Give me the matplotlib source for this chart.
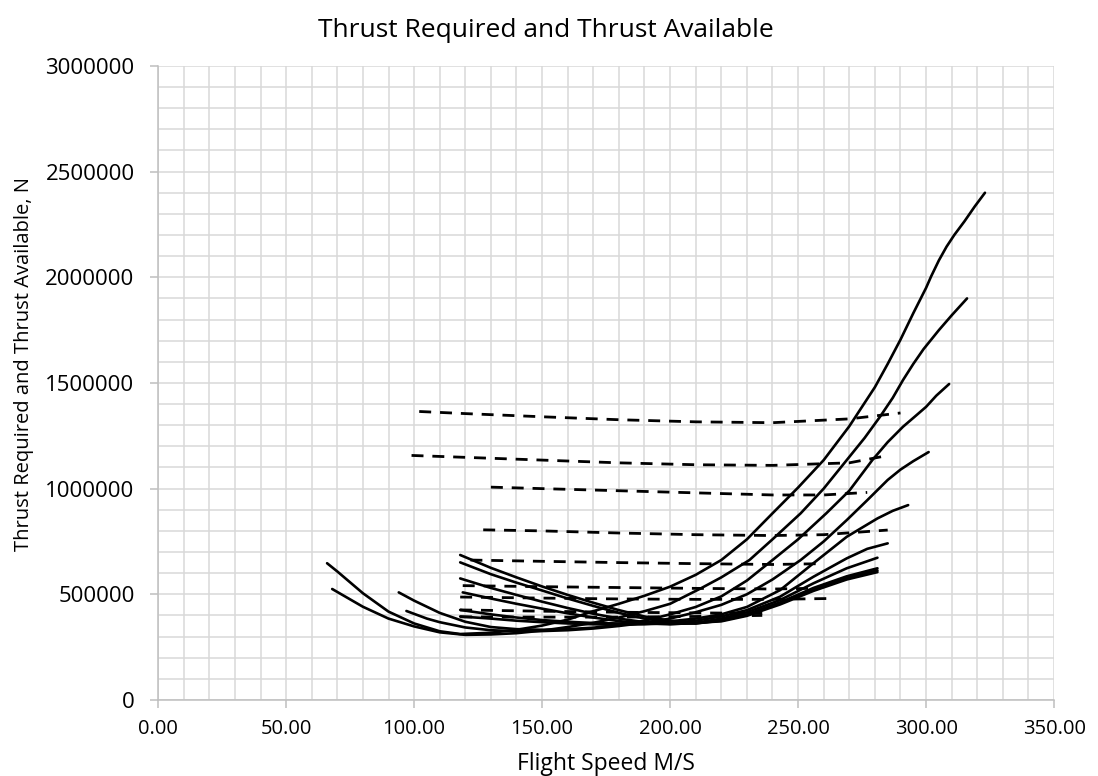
import matplotlib
matplotlib.use("Agg")
import matplotlib.pyplot as plt
from matplotlib.ticker import MultipleLocator, FuncFormatter

plt.rcParams["font.family"] = ["Open Sans", "DejaVu Sans"]

# --- thrust required (solid), values in kN ---
tr_speed = [
    [66, 70, 80, 90, 100, 110, 118, 130, 140, 150, 160, 170, 180, 190, 200, 210, 220, 230,
     240, 250, 260, 270, 280, 285, 290, 295, 300, 302, 305, 308, 311, 315, 319, 323],
    [68, 80, 90, 100, 110, 120, 130, 140, 150, 160, 170, 180, 190, 200, 212, 220, 231, 240,
     251, 260, 269, 276, 282, 287, 291, 295, 299, 302, 305, 310, 316],
    [94, 100, 110, 120, 130, 140, 150, 160, 170, 180, 190, 200, 210, 220, 230, 240, 250,
     261, 270, 279, 285, 291, 296, 300, 304, 309],
    [97, 105, 110, 120, 130, 140, 150, 160, 170, 180, 190, 200, 210, 220, 230, 240, 251,
     260, 269, 277, 285, 290, 295, 301],
    [118, 130, 140, 150, 160, 170, 180, 190, 200, 210, 220, 230, 243, 256, 269, 281, 287, 293],
    [118, 130, 140, 150, 160, 170, 180, 190, 200, 210, 220, 230, 243, 256, 269, 277, 285],
    [119, 130, 140, 150, 160, 170, 180, 190, 200, 210, 220, 230, 243, 256, 269, 281],
    [118, 130, 140, 150, 160, 170, 180, 190, 200, 210, 220, 230, 243, 256, 269, 281],
    [118, 130, 140, 150, 160, 170, 180, 190, 200, 210, 220, 230, 243, 256, 269, 281],
    [118, 130, 140, 150, 160, 170, 180, 190, 200, 210, 220, 230, 243, 256, 269, 281],
]
tr_thrust_k = [
    [647, 608, 505, 418, 362, 325, 312, 318, 332, 352, 380, 420, 455, 493, 536, 592, 662, 760,
     883, 1005, 1135, 1295, 1480, 1590, 1705, 1830, 1950, 2005, 2080, 2145, 2200, 2265, 2335,
     2400],
    [525, 441, 385, 348, 320, 308, 310, 316, 328, 345, 365, 390, 420, 455, 528, 580, 662, 760,
     883, 1000, 1135, 1240, 1340, 1430, 1514, 1590, 1660, 1705, 1750, 1820, 1900],
    [509, 470, 412, 370, 345, 335, 332, 335, 342, 355, 375, 405, 440, 490, 565, 662, 760,
     883, 990, 1135, 1220, 1293, 1345, 1387, 1440, 1495],
    [421, 385, 368, 343, 330, 325, 326, 330, 338, 350, 365, 385, 415, 450, 500, 570, 662,
     750, 851, 945, 1041, 1090, 1130, 1173],
    [426, 405, 390, 378, 370, 364, 362, 365, 372, 385, 405, 440, 520, 647, 772, 859, 895, 922],
    [395, 385, 375, 368, 362, 358, 356, 358, 364, 375, 395, 425, 489, 583, 670, 715, 741],
    [509, 480, 455, 432, 410, 390, 373, 362, 358, 365, 385, 415, 473, 552, 623, 673],
    [575, 530, 497, 465, 435, 408, 385, 368, 360, 362, 378, 405, 462, 530, 585, 623],
    [651, 595, 555, 518, 480, 445, 412, 385, 368, 362, 375, 402, 458, 523, 578, 613],
    [686, 625, 580, 537, 497, 460, 425, 395, 375, 365, 372, 398, 452, 516, 570, 605],
]

# --- thrust available (dashed), values in kN ---
ta_speed = [
    [102, 120, 150, 180, 210, 240, 270, 290],
    [99, 120, 150, 180, 210, 240, 270, 283],
    [130, 150, 180, 210, 240, 260, 277],
    [127, 150, 180, 210, 240, 260, 285],
    [122, 150, 180, 210, 240, 260],
    [119, 150, 180, 210, 240, 255],
    [118, 150, 180, 210, 240, 262],
    [118, 150, 180, 210, 236],
    [118, 150, 180, 210, 236],
]
ta_thrust_k = [
    [1365, 1355, 1340, 1326, 1316, 1312, 1330, 1358],
    [1157, 1148, 1135, 1122, 1113, 1110, 1122, 1152],
    [1007, 1000, 990, 980, 970, 970, 982],
    [805, 800, 790, 782, 778, 782, 804],
    [662, 656, 650, 645, 641, 645],
    [541, 536, 532, 528, 525, 528],
    [487, 482, 478, 476, 476, 480],
    [426, 420, 415, 412, 410],
    [393, 392, 392, 395, 400],
]

fig = plt.figure(figsize=(10.98, 7.76), dpi=100)
ax = fig.add_axes([0.144, 0.098, 0.816, 0.817])

for xs, ys in zip(ta_speed, ta_thrust_k):
    ax.plot(xs, [v * 1000 for v in ys], color="black", lw=2.0, ls=(0, (4.3, 3.2)), zorder=3)
for xs, ys in zip(tr_speed, tr_thrust_k):
    ax.plot(xs, [v * 1000 for v in ys], color="black", lw=1.9, zorder=4,
            solid_capstyle="round", solid_joinstyle="round")

ax.set_xlim(0, 350)
ax.set_ylim(0, 3000000)
ax.xaxis.set_major_locator(MultipleLocator(50))
ax.xaxis.set_minor_locator(MultipleLocator(10))
ax.yaxis.set_major_locator(MultipleLocator(500000))
ax.yaxis.set_minor_locator(MultipleLocator(100000))
ax.xaxis.set_major_formatter(FuncFormatter(lambda v, p: f"{v:.2f}"))
ax.yaxis.set_major_formatter(FuncFormatter(lambda v, p: f"{int(v)}"))
ax.grid(which="both", color="#d9d9d9", lw=1.1, zorder=0)
ax.set_axisbelow(True)

for side in ("top", "right"):
    ax.spines[side].set_visible(False)
for side in ("left", "bottom"):
    ax.spines[side].set_color("#bfbfbf")
    ax.spines[side].set_linewidth(1.1)
ax.tick_params(which="major", length=6, width=1.1, color="#bfbfbf", labelcolor="black")
ax.tick_params(axis="x", which="major", labelsize=14.5, pad=8)
ax.tick_params(axis="y", which="major", labelsize=16, pad=11)
ax.tick_params(which="minor", length=0)

ax.set_xlabel("Flight Speed M/S", fontsize=16.5, labelpad=9)
ax.set_ylabel("Thrust Required and Thrust Available, N", fontsize=14.5)
ax.yaxis.set_label_coords(-0.138, 0.53)
# title is centred on the whole figure, not the plot area
fig.text(0.497, 0.961, "Thrust Required and Thrust Available", fontsize=19,
         ha="center", va="center")

fig.savefig("out.png", dpi=100)
